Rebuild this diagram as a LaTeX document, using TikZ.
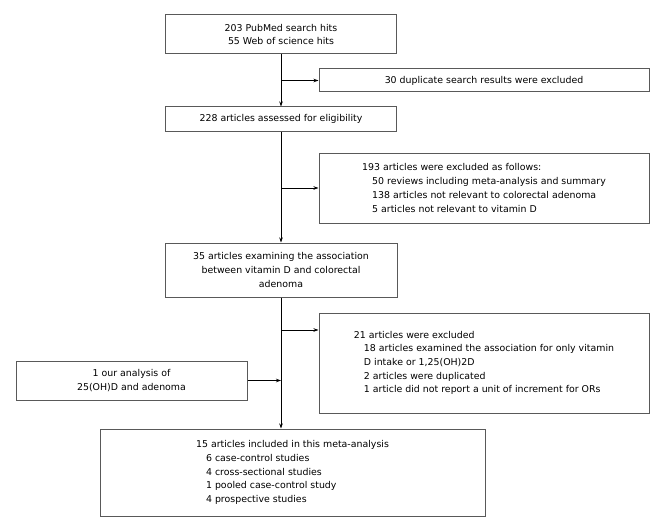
\documentclass[tikz,border=0pt]{standalone}
\usepackage{fontspec}
\setmainfont{DejaVu Sans}
\usetikzlibrary{arrows.meta}
\begin{document}
\begin{tikzpicture}[x=1pt,y=-1pt,
  box/.style={draw=black!65,line width=1pt,rectangle,inner sep=0pt,font=\fontsize{9.4}{13.7}\selectfont},
  arr/.style={draw=black,line width=0.8pt,-{Stealth[length=5pt,width=3.5pt]}}]
\useasboundingbox (0,0) rectangle (666,532);
\newcommand\ind{\hspace*{10pt}}
\node[box,minimum width=231pt,minimum height=39pt,align=center] (b1) at (281,34.5) {203 PubMed search hits\\55 Web of science hits};
\node[box,minimum width=330pt,minimum height=23pt] (dup) at (484,80.5) {30 duplicate search results were excluded};
\node[box,minimum width=231pt,minimum height=24pt] (b228) at (281,119) {228 articles assessed for eligibility};
\node[box,minimum width=330pt,minimum height=70pt,align=left] (b193) at (484,188) {193 articles were excluded as follows:\\\ind 50 reviews including meta-analysis and summary\\\ind 138 articles not relevant to colorectal adenoma\\\ind 5 articles not relevant to vitamin D};
\node[box,minimum width=232pt,minimum height=54pt,align=center] (b35) at (281,270) {35 articles examining the association\\between vitamin D and colorectal\\adenoma};
\node[box,minimum width=330pt,minimum height=100pt,align=left] (b21) at (484,363) {21 articles were excluded\\\ind 18 articles examined the association for only vitamin\\\ind D intake or 1,25(OH)2D\\\ind 2 articles were duplicated\\\ind 1 article did not report a unit of increment for ORs};
\node[box,minimum width=231pt,minimum height=39pt,align=center] (bl) at (131.5,380.5) {1 our analysis of\\25(OH)D and adenoma};
\node[box,minimum width=385pt,minimum height=87pt,align=left] (b15) at (292.5,472.5) {15 articles included in this meta-analysis\\\ind 6 case-control studies\\\ind 4 cross-sectional studies\\\ind 1 pooled case-control study\\\ind 4 prospective studies};
\coordinate (j1) at (281,80.5);
\coordinate (j2) at (281,188);
\coordinate (j3) at (281,330);
\draw[arr] (b1.south) -- (b228.north);
\draw[arr] (j1) -- (dup.west);
\draw[arr] (b228.south) -- (b35.north);
\draw[arr] (j2) -- (b193.west);
\draw[arr] (b35.south) -- (b35.south |- b15.north);
\draw[arr] (j3) -- (j3 -| b21.west);
\draw[arr] (bl.east) -- (bl.east -| j3);
\end{tikzpicture}
\end{document}
